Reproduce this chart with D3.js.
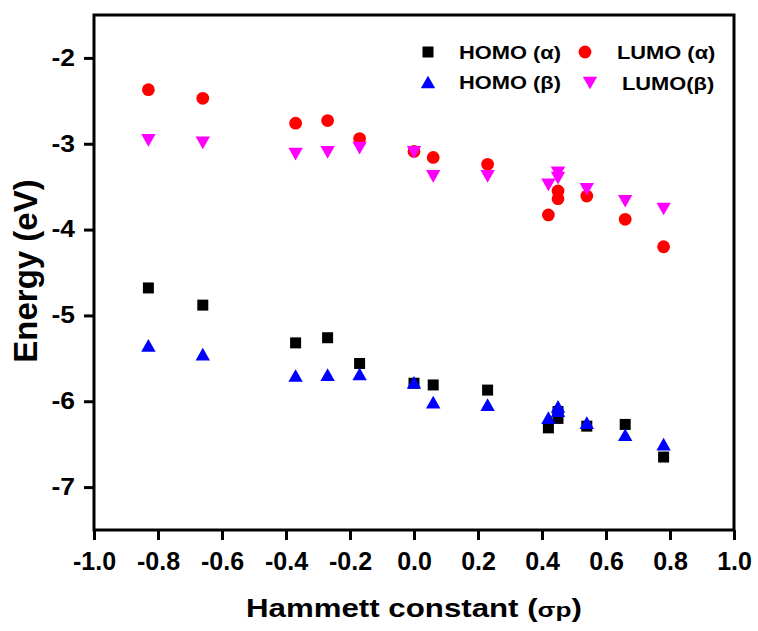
<!DOCTYPE html>
<html><head><meta charset="utf-8">
<script src="https://cdn.jsdelivr.net/npm/d3@7"></script>
<style>body{margin:0;background:#fff}svg text{font-family:"Liberation Sans",Arial,sans-serif;font-weight:bold}</style>
</head><body>
<svg id="c" width="758" height="631"></svg>
<script>
const sigma = [-0.83,-0.66,-0.37,-0.27,-0.17,0.00,0.06,0.23,0.42,0.45,0.45,0.54,0.66,0.78];
const homoA = [-4.68,-4.88,-5.32,-5.26,-5.56,-5.79,-5.81,-5.87,-6.31,-6.20,-6.12,-6.29,-6.27,-6.65];
const lumoA = [-2.37,-2.47,-2.76,-2.73,-2.94,-3.09,-3.16,-3.24,-3.83,-3.55,-3.64,-3.61,-3.88,-4.20];
const homoB = [-5.35,-5.45,-5.70,-5.69,-5.68,-5.78,-6.01,-6.04,-6.19,-6.06,-6.11,-6.25,-6.39,-6.50];
const lumoB = [-2.96,-2.99,-3.12,-3.10,-3.05,-3.10,-3.38,-3.38,-3.48,-3.34,-3.40,-3.53,-3.67,-3.76];
const xTicks = [-1.0,-0.8,-0.6,-0.4,-0.2,0.0,0.2,0.4,0.6,0.8,1.0];
const yTicks = [-7,-6,-5,-4,-3,-2];
const seriesNames = ["HOMO (\u03B1)","LUMO (\u03B1)","HOMO (\u03B2)","LUMO(\u03B2)"];

const L=94,R=734,T=15,B=530;
const svg=d3.select("#c");
const x=d3.scaleLinear().domain([-1,1]).range([L,R]);
const y=d3.scaleLinear().domain([-7.5,-1.5]).range([B,T]);

const triUp={draw(ctx,size){const w=Math.sqrt(size*1.6),h=w*0.88;ctx.moveTo(0,-h/2);ctx.lineTo(w/2,h/2);ctx.lineTo(-w/2,h/2);ctx.closePath();}};
const triDown={draw(ctx,size){const w=Math.sqrt(size*1.6),h=w*0.88;ctx.moveTo(0,h/2);ctx.lineTo(w/2,-h/2);ctx.lineTo(-w/2,-h/2);ctx.closePath();}};

const series=[
 {name:seriesNames[0],vals:homoA,type:d3.symbolSquare,size:121,color:"#000000"},
 {name:seriesNames[1],vals:lumoA,type:d3.symbolCircle,size:128,color:"#ff0000"},
 {name:seriesNames[2],vals:homoB,type:triUp,size:130,color:"#0000ff"},
 {name:seriesNames[3],vals:lumoB,type:triDown,size:130,color:"#ff00ff"}
];
const fmt=v=>d3.format(".1f")(v).replace("\u2212","-");

// axes
const xa=svg.append("g").attr("transform",`translate(0,${B})`)
 .call(d3.axisBottom(x).tickValues(xTicks).tickFormat(fmt).tickSize(10).tickPadding(12));
const ya=svg.append("g").attr("transform",`translate(${L},0)`)
 .call(d3.axisLeft(y).tickValues(yTicks).tickFormat(d=>String(d)).tickSize(10).tickPadding(9));
[xa,ya].forEach(a=>{a.select(".domain").remove();a.selectAll("line").attr("stroke","#000").attr("stroke-width",3);
 a.selectAll("text").attr("fill","#000");});
xa.selectAll("text").style("font-size","25px");
ya.selectAll("text").style("font-size","23px").attr("transform","scale(1.15,1)")
 .attr("x",-19/1.15);

// frame
svg.append("rect").attr("x",L).attr("y",T).attr("width",R-L).attr("height",B-T)
 .attr("fill","none").attr("stroke","#000").attr("stroke-width",3);

// points
series.forEach(s=>{
 svg.append("g").selectAll("path").data(s.vals).join("path")
  .attr("transform",(d,i)=>`translate(${x(sigma[i])},${y(d)})`)
  .attr("d",d3.symbol().type(s.type).size(s.size)).attr("fill",s.color);
});

// legend
const leg=[{s:series[0],mx:428,my:52,tx:459},{s:series[1],mx:585,my:52,tx:617},
 {s:series[2],mx:428,my:82,tx:459},{s:series[3],mx:590,my:83,tx:622}];
leg.forEach(l=>{
 svg.append("path").attr("transform",`translate(${l.mx},${l.my})`)
  .attr("d",d3.symbol().type(l.s.type).size(l.s.size)).attr("fill",l.s.color);
 svg.append("text").attr("transform",`translate(${l.tx},${l.my+7}) scale(1.15,1)`)
  .style("font-size","19px").text(l.s.name);
});

// axis titles
const xt=svg.append("text").attr("transform",`translate(${(L+R)/2},617) scale(1.25,1)`)
 .attr("text-anchor","middle").style("font-size","25px");
xt.append("tspan").text("Hammett constant (");
xt.append("tspan").style("font-size","21px").text("\u03C3p");
xt.append("tspan").text(")");
svg.append("text").attr("transform","translate(37,271) rotate(-90)").attr("text-anchor","middle")
 .style("font-size","33px").text("Energy (eV)");
</script>
</body></html>
